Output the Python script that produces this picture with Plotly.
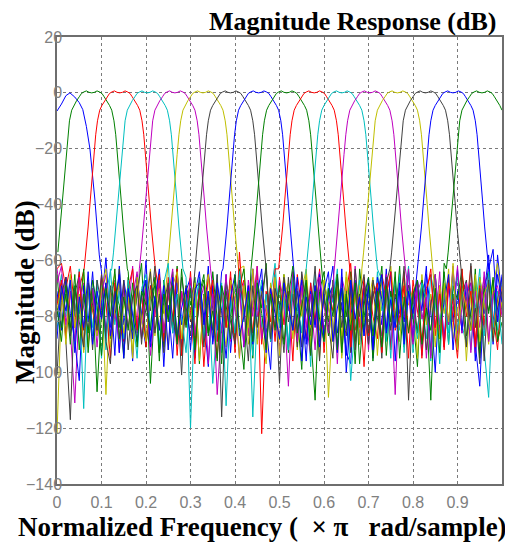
import plotly.graph_objects as go

# ---------------- data ----------------
freq_grid = [round(i * 0.01, 2) for i in range(101)]  # stopband sample positions

colors = ["#0000ff", "#008000", "#ff0000", "#00bfbf", "#bf00bf", "#bfbf00", "#404040",
          "#0000ff", "#008000", "#ff0000", "#00bfbf", "#bf00bf", "#bfbf00", "#404040",
          "#0000ff", "#008000"]

# first (blue) band, read point by point
band0_f = [0.0, 0.01, 0.02, 0.029, 0.04, 0.05, 0.058, 0.066, 0.074, 0.08, 0.085, 0.09, 0.095]
band0_db = [-6.5, -4, -1, 0, -1.5, -3.5, -6, -12, -20, -29, -38, -48, -58]

# centre frequencies of bands 1..15
centers = [0.078, 0.141, 0.203, 0.265, 0.328, 0.390, 0.453, 0.516,
           0.578, 0.640, 0.703, 0.765, 0.828, 0.890, 0.955]

# passband / skirt shape (offset from centre, dB)
profile_off = [0.0, 0.006, 0.012, 0.018, 0.023, 0.028, 0.034, 0.040, 0.045,
               0.050, 0.054, 0.058, 0.062, 0.066, 0.071, 0.076, 0.080]
profile_db = [0.0, 0.2, 0.7, 0.3, -0.2, -1.4, -2.8, -4.5, -6.2,
              -10, -15, -22, -30, -38, -48, -57, -63]
stop_edge = 0.082

# stopband responses of each band on freq_grid (dB)
noise0 = [-70,-70,-70,-70,-70,-70,-70,-70,-70,-70,
          -64,-86,-70,-94,-62,-83,-72,-96,-66,-80,
          -60,-89,-73,-68,-98,-70,-85,-63,-91,-75,
          -69,-95,-66,-82,-62,-90,-72,-86,-65,-93,
          -73,-67,-91,-76,-63,-88,-69,-84,-99,-66,
          -77,-70,-92,-64,-85,-74,-96,-68,-83,-65,
          -89,-72,-62,-86,-75,-93,-97,-67,-90,-73,
          -66,-95,-70,-83,-63,-91,-74,-68,-87,-64,
          -81,-71,-94,-65,-78,-100,-69,-88,-67,-82,
          -63,-86,-72,-68,-96,-66,-79,-61,-90,-58,
          -74]
noise1 = [-70,-70,-70,-70,-70,-70,-70,-70,-70,-70,
          -70,-70,-70,-70,-70,-70,-64,-88,-70,-82,
          -67,-104,-74,-65,-91,-71,-84,-62,-94,-69,
          -76,-66,-97,-72,-86,-64,-81,-92,-68,-75,
          -88,-63,-80,-70,-95,-67,-77,-61,-89,-72,
          -83,-65,-93,-69,-79,-99,-67,-86,-110,-71,
          -64,-82,-72,-91,-66,-85,-70,-97,-63,-78,
          -90,-68,-75,-62,-94,-71,-84,-65,-88,-69,
          -80,-98,-67,-76,-110,-70,-87,-64,-83,-72,
          -92,-66,-73,-85,-63,-95,-69,-79,-67,-89,
          -75]
noise2 = [-63,-61,-70,-62,-78,-70,-70,-70,-70,-70,
          -70,-70,-70,-70,-70,-70,-70,-70,-70,-70,
          -70,-70,-70,-72,-89,-66,-82,-63,-94,-70,
          -78,-97,-68,-87,-65,-75,-95,-69,-84,-64,
          -91,-72,-67,-86,-76,-62,-122,-80,-69,-89,
          -66,-83,-71,-96,-65,-77,-88,-68,-82,-63,
          -93,-70,-78,-67,-90,-72,-61,-85,-74,-98,
          -68,-80,-88,-65,-73,-92,-69,-83,-64,-86,
          -75,-67,-95,-72,-63,-87,-70,-91,-66,-81,
          -95,-69,-77,-62,-89,-71,-85,-67,-79,-92,
          -70]
noise3 = [-75,-65,-87,-68,-80,-63,-91,-70,-84,-67,
          -95,-72,-64,-70,-70,-70,-70,-70,-70,-70,
          -70,-70,-70,-70,-70,-70,-70,-70,-70,-66,
          -120,-76,-68,-89,-71,-85,-65,-93,-74,-69,
          -88,-64,-82,-70,-116,-78,-67,-90,-72,-61,
          -84,-71,-92,-66,-76,-86,-69,-98,-65,-80,
          -89,-68,-75,-63,-94,-71,-103,-82,-67,-87,
          -70,-91,-64,-78,-72,-95,-66,-85,-76,-62,
          -93,-69,-79,-88,-65,-74,-97,-68,-86,-71,
          -66,-83,-90,-70,-77,-63,-92,-109,-72,-85,
          -68]
noise4 = [-63,-74,-66,-85,-111,-75,-68,-90,-70,-82,
          -65,-88,-72,-67,-93,-69,-78,-62,-86,-70,
          -70,-70,-70,-70,-70,-70,-70,-70,-70,-70,
          -70,-70,-70,-70,-70,-70,-89,-70,-83,-66,
          -76,-95,-68,-87,-63,-80,-72,-91,-69,-84,
          -67,-75,-105,-70,-88,-65,-82,-94,-71,-64,
          -86,-77,-69,-97,-66,-73,-90,-62,-83,-70,
          -92,-68,-76,-87,-65,-72,-108,-69,-80,-63,
          -89,-71,-67,-95,-74,-84,-64,-91,-70,-78,
          -62,-86,-72,-68,-93,-76,-66,-89,-71,-82,
          -69]
noise5 = [-122,-75,-67,-86,-70,-81,-64,-91,-72,-84,
          -68,-108,-71,-65,-89,-76,-69,-93,-66,-82,
          -74,-63,-87,-70,-79,-70,-70,-70,-70,-70,
          -70,-70,-70,-70,-70,-70,-70,-70,-70,-70,
          -70,-70,-62,-90,-75,-67,-85,-97,-68,-78,
          -88,-65,-76,-69,-92,-71,-63,-84,-72,-95,
          -67,-109,-79,-70,-87,-64,-76,-91,-69,-82,
          -75,-66,-94,-71,-85,-62,-78,-89,-68,-76,
          -70,-95,-65,-83,-72,-91,-69,-79,-63,-88,
          -78,-68,-96,-71,-84,-66,-75,-90,-69,-61,
          -77]
noise6 = [-80,-68,-89,-117,-72,-65,-85,-70,-92,-67,
          -76,-87,-69,-81,-63,-94,-71,-84,-66,-90,
          -70,-78,-62,-93,-75,-68,-86,-72,-101,-69,
          -82,-70,-70,-70,-70,-70,-70,-70,-70,-70,
          -70,-70,-70,-70,-70,-70,-70,-70,-89,-71,
          -104,-66,-82,-72,-91,-64,-77,-87,-69,-96,
          -68,-76,-88,-65,-84,-71,-93,-63,-80,-70,
          -90,-67,-75,-95,-66,-85,-72,-79,-62,-110,
          -71,-86,-68,-92,-76,-65,-88,-70,-83,-63,
          -91,-72,-67,-85,-77,-97,-69,-64,-87,-74,
          -66]
noise7 = [-71,-85,-66,-79,-89,-103,-69,-82,-64,-87,
          -75,-59,-84,-70,-93,-67,-77,-88,-65,-81,
          -91,-69,-74,-63,-86,-76,-95,-68,-83,-71,
          -66,-89,-70,-80,-98,-69,-85,-64,-70,-70,
          -70,-70,-70,-70,-70,-70,-70,-70,-70,-70,
          -70,-70,-70,-70,-78,-67,-90,-71,-84,-65,
          -88,-73,-69,-93,-63,-100,-80,-70,-87,-68,
          -76,-91,-66,-74,-85,-64,-96,-71,-82,-69,
          -89,-67,-78,-62,-94,-70,-84,-75,-65,-92,
          -71,-85,-68,-80,-90,-105,-72,-58,-86,-65,
          -75]
noise8 = [-65,-84,-72,-90,-69,-79,-63,-93,-71,-107,
          -78,-68,-88,-70,-76,-95,-66,-85,-72,-61,
          -91,-73,-69,-96,-67,-82,-64,-89,-71,-84,
          -68,-92,-72,-65,-86,-76,-69,-97,-67,-80,
          -88,-70,-63,-83,-70,-70,-70,-70,-70,-70,
          -70,-70,-70,-70,-70,-70,-70,-70,-70,-70,
          -73,-87,-67,-92,-70,-80,-64,-89,-72,-85,
          -68,-96,-76,-66,-88,-71,-82,-62,-91,-69,
          -77,-86,-67,-75,-94,-65,-84,-71,-90,-69,
          -74,-63,-87,-79,-68,-93,-70,-78,-66,-89,
          -82]
noise9 = [-76,-67,-88,-71,-84,-64,-92,-69,-78,-86,
          -66,-75,-95,-68,-82,-89,-70,-63,-85,-72,
          -91,-69,-80,-65,-87,-73,-68,-94,-71,-83,
          -64,-88,-70,-98,-76,-67,-89,-72,-84,-66,
          -93,-57,-79,-69,-86,-65,-90,-71,-82,-63,
          -70,-70,-70,-70,-70,-70,-70,-70,-70,-70,
          -70,-70,-70,-70,-70,-70,-91,-70,-84,-66,
          -87,-73,-68,-93,-72,-64,-85,-80,-69,-95,
          -67,-78,-89,-70,-65,-84,-72,-92,-68,-76,
          -86,-63,-80,-71,-91,-69,-83,-66,-88,-73,
          -70]
noise10 = [-85,-70,-80,-65,-90,-72,-113,-68,-87,-76,
           -69,-92,-63,-83,-71,-88,-67,-79,-95,-70,
           -65,-84,-73,-90,-68,-61,-86,-72,-80,-93,
           -69,-77,-66,-88,-71,-104,-82,-68,-112,-73,
           -86,-64,-79,-70,-94,-67,-84,-72,-89,-65,
           -80,-71,-92,-68,-77,-85,-70,-70,-70,-70,
           -70,-70,-70,-70,-70,-70,-70,-70,-70,-70,
           -70,-70,-70,-67,-89,-73,-84,-65,-93,-70,
           -78,-88,-68,-74,-96,-66,-83,-71,-90,-63,
           -85,-73,-69,-92,-67,-79,-87,-64,-84,-71,
           -90]
noise11 = [-68,-62,-83,-71,-89,-66,-77,-85,-70,-91,
           -72,-65,-87,-79,-88,-69,-84,-73,-64,-88,
           -70,-94,-78,-67,-86,-73,-63,-90,-71,-82,
           -66,-87,-76,-69,-97,-72,-108,-84,-65,-89,
           -73,-70,-91,-67,-80,-62,-88,-76,-85,-68,
           -93,-71,-78,-64,-89,-69,-84,-72,-92,-66,
           -76,-86,-69,-70,-70,-70,-70,-70,-70,-70,
           -70,-70,-70,-70,-70,-70,-70,-70,-70,-71,
           -90,-67,-81,-73,-95,-65,-86,-70,-83,-62,
           -88,-77,-68,-93,-71,-84,-64,-89,-72,-69,
           -80]
noise12 = [-78,-69,-90,-65,-84,-72,-93,-67,-76,-87,
           -70,-63,-91,-77,-68,-86,-73,-95,-66,-82,
           -89,-71,-67,-85,-76,-92,-69,-64,-88,-72,
           -81,-68,-96,-73,-65,-87,-70,-79,-91,-67,
           -72,-95,-69,-84,-63,-90,-71,-77,-86,-66,
           -94,-73,-68,-88,-70,-80,-65,-91,-72,-85,
           -67,-76,-89,-69,-95,-66,-83,-71,-90,-70,
           -70,-70,-70,-70,-70,-70,-70,-70,-70,-70,
           -70,-70,-70,-70,-70,-73,-88,-68,-82,-61,
           -92,-70,-77,-85,-65,-89,-72,-68,-87,-76,
           -69]
noise13 = [-101,-72,-66,-87,-70,-82,-91,-68,-76,-85,
           -65,-89,-97,-71,-84,-67,-92,-73,-69,-88,
           -77,-64,-86,-72,-93,-69,-80,-89,-66,-76,
           -87,-70,-68,-91,-73,-85,-65,-116,-71,-82,
           -90,-67,-77,-96,-69,-84,-72,-63,-88,-70,
           -76,-93,-66,-85,-71,-91,-68,-80,-62,-89,
           -72,-83,-95,-67,-78,-87,-69,-92,-73,-65,
           -86,-71,-81,-90,-68,-70,-70,-70,-70,-70,
           -70,-70,-70,-70,-70,-70,-70,-70,-70,-70,
           -70,-73,-91,-61,-84,-70,-96,-67,-89,-77,
           -71]
noise14 = [-88,-69,-78,-67,-93,-73,-84,-64,-90,-71,
           -81,-68,-87,-74,-65,-95,-70,-80,-89,-72,
           -67,-91,-73,-85,-69,-92,-66,-88,-77,-70,
           -92,-72,-64,-83,-71,-89,-68,-78,-95,-73,
           -65,-87,-80,-69,-90,-72,-63,-93,-70,-79,
           -88,-68,-76,-85,-66,-96,-73,-83,-69,-91,
           -71,-64,-89,-77,-70,-94,-67,-81,-73,-87,
           -69,-92,-72,-65,-86,-74,-84,-68,-90,-71,
           -79,-70,-70,-70,-70,-70,-70,-70,-70,-70,
           -70,-70,-70,-70,-70,-70,-70,-70,-56,-82,
           -65]
noise15 = [-77,-89,-69,-84,-65,-92,-72,-86,-67,-76,
           -94,-70,-80,-63,-88,-73,-85,-68,-91,-71,
           -76,-85,-66,-93,-72,-81,-69,-90,-63,-83,
           -70,-91,-73,-67,-87,-78,-96,-69,-76,-88,
           -65,-84,-99,-71,-89,-68,-79,-92,-72,-85,
           -69,-90,-73,-62,-86,-77,-67,-94,-71,-81,
           -89,-70,-80,-65,-93,-72,-85,-68,-97,-76,
           -66,-87,-71,-91,-69,-82,-64,-95,-73,-86,
           -72,-67,-90,-77,-85,-70,-93,-61,-70,-70,
           -70,-70,-70,-70,-70,-70,-70,-70,-70,-70,
           -70]

noises = [noise0, noise1, noise2, noise3, noise4, noise5, noise6, noise7,
          noise8, noise9, noise10, noise11, noise12, noise13, noise14, noise15]

x_ticks = [0, 0.1, 0.2, 0.3, 0.4, 0.5, 0.6, 0.7, 0.8, 0.9]
x_tick_text = ["0", "0.1", "0.2", "0.3", "0.4", "0.5", "0.6", "0.7", "0.8", "0.9"]
y_ticks = [20, 0, -20, -40, -60, -80, -100, -120, -140]

# ---------------- build curves ----------------
curves = []
pts = list(zip(band0_f, band0_db))
pts += [(f, v) for f, v in zip(freq_grid, noise0) if f > max(band0_f)]
curves.append(sorted(pts))
for k, c in enumerate(centers, start=1):
    pts = [(f, v) for f, v in zip(freq_grid, noises[k]) if abs(f - c) >= stop_edge]
    for o, d in zip(profile_off, profile_db):
        for s in ((1,) if o == 0 else (-1, 1)):
            x = c + s * o
            if 0 <= x <= 1:
                pts.append((x, d))
    curves.append(sorted(pts))

fig = go.Figure()
for k, pts in enumerate(curves):
    fig.add_trace(go.Scatter(
        x=[p[0] for p in pts], y=[p[1] for p in pts], mode="lines",
        line=dict(color=colors[k], width=1), showlegend=False, hoverinfo="skip"))

# page offset of the figure (default body margin) is 8 px
OFF = 8
FW, FH = 513 - OFF, 545 - OFF
W0, W1, H0, H1 = 57 - OFF, 502 - OFF, 37 - OFF, 484 - OFF
pw, ph = W1 - W0, H1 - H0

axis_common = dict(showgrid=True, gridcolor="#7a7a7a", griddash="3px,3px", gridwidth=1,
                   zeroline=False, showline=True, mirror=True, linecolor="#6e6e6e", linewidth=1.5,
                   ticks="", automargin=False,
                   tickfont=dict(family="Liberation Sans, Arial", size=16, color="#808080"))

fig.update_layout(
    width=FW, height=FH,
    margin=dict(l=W0, r=FW - W1, t=H0, b=FH - H1),
    paper_bgcolor="white", plot_bgcolor="white",
    xaxis=dict(range=[0, 1], tickvals=x_ticks, ticktext=x_tick_text,
               ticklabelstandoff=3, **axis_common),
    yaxis=dict(range=[-140, 20], tickvals=y_ticks,
               ticklabelstandoff=-10, **axis_common),
    annotations=[
        dict(text="<b>Magnitude Response (dB)</b>", xref="paper", yref="paper",
             x=(498 - 57) / pw, y=(484 - 22) / ph, xanchor="right", yanchor="middle",
             showarrow=False, font=dict(family="Liberation Serif, Times New Roman", size=26, color="black")),
        dict(text="<b>Normalized Frequency (\u00a0 \u00d7 \u03c0 \u00a0 rad/sample)</b>", xref="paper", yref="paper",
             x=(262 - 57) / pw, y=(484 - 527) / ph, xanchor="center", yanchor="middle",
             showarrow=False, font=dict(family="Liberation Serif, Times New Roman", size=27, color="black")),
        dict(text="<b>Magnitude (dB)</b>", xref="paper", yref="paper", textangle=-90,
             x=(25 - 57) / pw, y=(484 - 292) / ph, xanchor="center", yanchor="middle",
             showarrow=False, font=dict(family="Liberation Serif, Times New Roman", size=27, color="black")),
    ],
)

fig.write_html("out.html")
